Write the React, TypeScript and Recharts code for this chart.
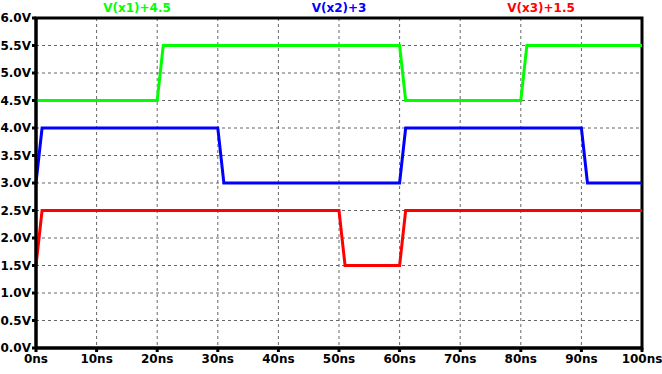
import React from 'react';
import { LineChart, Line, XAxis, YAxis, CartesianGrid, ReferenceArea } from 'recharts';

// time points (ns) and voltages for each trace
const x1Time = [0, 20, 21, 60, 61, 80, 81, 100];
const x1Volts = [4.5, 4.5, 5.5, 5.5, 4.5, 4.5, 5.5, 5.5];

const x2Time = [0, 1, 30, 31, 60, 61, 90, 91, 100];
const x2Volts = [3.0, 4.0, 4.0, 3.0, 3.0, 4.0, 4.0, 3.0, 3.0];

const x3Time = [0, 1, 50, 51, 60, 61, 100];
const x3Volts = [1.5, 2.5, 2.5, 1.5, 1.5, 2.5, 2.5];

const timeTicks = [0, 10, 20, 30, 40, 50, 60, 70, 80, 90, 100];
const voltTicks = [0, 0.5, 1, 1.5, 2, 2.5, 3, 3.5, 4, 4.5, 5, 5.5, 6];

const traceNames = ['V(x1)+4.5', 'V(x2)+3', 'V(x3)+1.5'];
const traceColors = ['#00ff00', '#0000ff', '#ff0000'];
const labelCenters = [137, 339, 541];

const toPoints = (t: number[], v: number[]) => t.map((time, i) => ({ time, v: v[i] }));

const series = [
  toPoints(x1Time, x1Volts),
  toPoints(x2Time, x2Volts),
  toPoints(x3Time, x3Volts),
];

const font = '"DejaVu Sans", sans-serif';

export default function App() {
  return (
    <div style={{ position: 'absolute', left: 0, top: 0, width: 662, height: 374, background: '#fff' }}>
      {traceNames.map((name, i) => (
        <div
          key={name}
          style={{
            position: 'absolute',
            top: 1,
            left: labelCenters[i] - 50,
            width: 100,
            textAlign: 'center',
            fontFamily: font,
            fontWeight: 'bold',
            fontSize: 12,
            color: traceColors[i],
          }}
        >
          {name}
        </div>
      ))}
      <LineChart width={662} height={374} margin={{ top: 18, right: 20, left: 0, bottom: 0 }}>
        <CartesianGrid stroke="#666" strokeDasharray="3 3" />
        <XAxis
          dataKey="time"
          type="number"
          domain={[0, 100]}
          ticks={timeTicks}
          tickFormatter={(t: number) => `${t}ns`}
          height={26}
          stroke="#000"
          strokeWidth={3}
          tickSize={4}
          interval={0}
          allowDuplicatedCategory={false}
          tick={{ fill: '#000', fontFamily: font, fontWeight: 'bold', fontSize: 12 }}
        />
        <YAxis
          type="number"
          domain={[0, 6]}
          ticks={voltTicks}
          tickFormatter={(v: number) => `${v.toFixed(1)}V`}
          width={36}
          stroke="#000"
          strokeWidth={3}
          tickSize={4}
          tickMargin={1}
          interval={0}
          tick={{ fill: '#000', fontFamily: font, fontWeight: 'bold', fontSize: 12 }}
        />
        {series.map((data, i) => (
          <Line
            key={traceNames[i]}
            data={data}
            dataKey="v"
            name={traceNames[i]}
            type="linear"
            stroke={traceColors[i]}
            strokeWidth={3}
            dot={false}
            activeDot={false}
            isAnimationActive={false}
          />
        ))}
        <ReferenceArea x1={0} x2={100} y1={0} y2={6} fill="none" stroke="#000" strokeWidth={3} />
      </LineChart>
    </div>
  );
}
